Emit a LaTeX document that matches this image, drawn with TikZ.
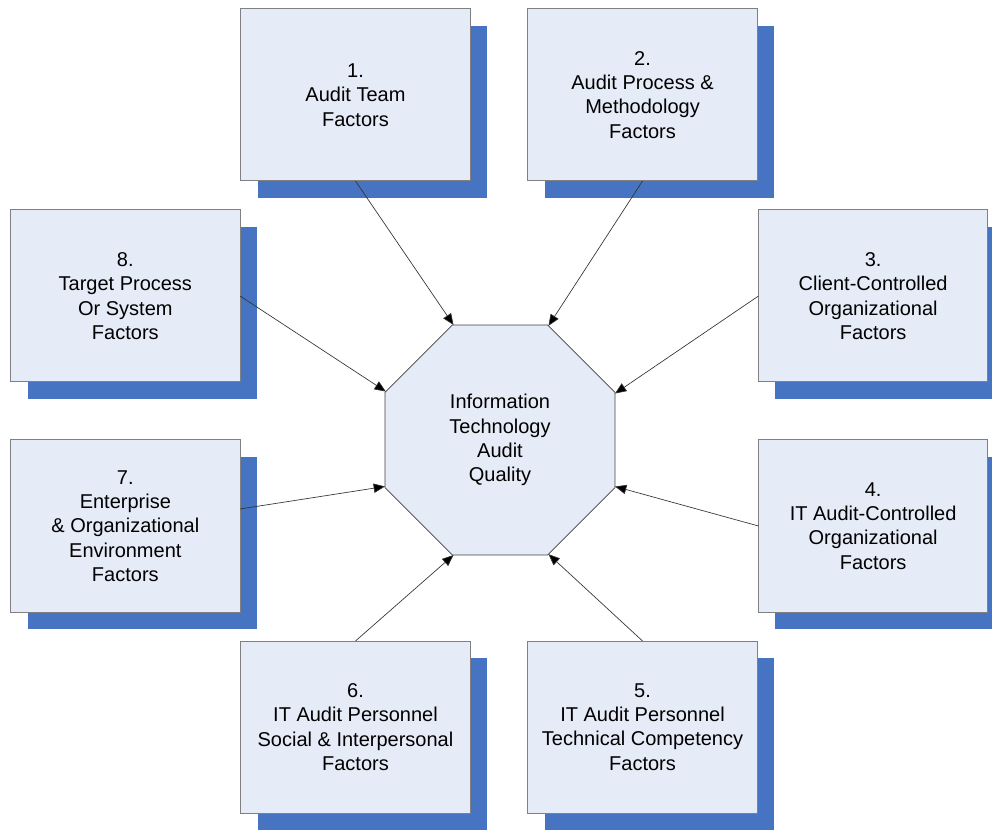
\documentclass[tikz,border=0pt]{standalone}
\usepackage{fontspec}
\setmainfont{Liberation Sans}
\usepackage{tikz}
\usetikzlibrary{shapes, arrows.meta, positioning, shadows, shapes.geometric}
\definecolor{boxfill}{RGB}{230, 236, 247}
\definecolor{shadowblue}{RGB}{70, 116, 194}
\definecolor{boxline}{RGB}{128, 128, 128}

\begin{document}
\begin{tikzpicture}[auto, >=Triangle,
    factor/.style={rectangle, draw=boxline, fill=boxfill, line width=0.75pt, minimum width=172pt, minimum height=129pt, align=center, inner sep=0pt, outer sep=0pt, font=\fontsize{15}{18.2}\selectfont, drop shadow={shadow xshift=12.75pt, shadow yshift=-12.75pt, fill=shadowblue, opacity=1}},
    core/.style={regular polygon, regular polygon sides=8, draw=black!75, fill=boxfill, line width=0.6pt, minimum size=186.7pt, align=center, inner sep=0pt, outer sep=0pt, font=\fontsize{15}{18.2}\selectfont},
    arrow/.style={line width=0.5pt, draw=black!80, -{Triangle[length=8.5pt, width=7pt, fill=black]}}]

    \useasboundingbox (-375pt,-291.75pt) rectangle (369pt,330pt);

    % Quality
    \node[core] (core) at (0,0) {Information\\Technology\\Audit\\Quality};

    % Factors
    \node[factor, above=108pt of core, xshift=-108.4pt] (team) {1.\\Audit Team\\Factors};
    \node[factor, above=108pt of core, xshift=106.9pt] (process) {2.\\Audit Process \&\\Methodology\\Factors};
    \node[factor, right=107.6pt of core, yshift=108pt] (client) {3.\\Client-Controlled\\Organizational\\Factors};
    \node[factor, right=107.6pt of core, yshift=-64.5pt] (itaudit) {4.\\IT Audit-Controlled\\Organizational\\Factors};
    \node[factor, below=64.5pt of core, xshift=106.9pt] (technical) {5.\\IT Audit Personnel\\Technical Competency\\Factors};
    \node[factor, below=64.5pt of core, xshift=-108.4pt] (social) {6.\\IT Audit Personnel\\Social \& Interpersonal\\Factors};
    \node[factor, left=108.75pt of core, yshift=-64.5pt] (enterprise) {7.\\Enterprise\\\& Organizational\\Environment\\Factors};
    \node[factor, left=108.75pt of core, yshift=108pt] (target) {8.\\Target Process\\Or System\\Factors};

    % Connections
    \draw[arrow] (team.south) -- (core.112.5);
    \draw[arrow] (process.south) -- (core.67.5);
    \draw[arrow] (client.west) -- (core.22.5);
    \draw[arrow] (itaudit.west) -- (core.-22.5);
    \draw[arrow] (technical.north) -- (core.-67.5);
    \draw[arrow] (social.north) -- (core.-112.5);
    \draw[arrow] ([yshift=12.75pt]enterprise.east) -- (core.202.5);
    \draw[arrow] (target.east) -- (core.157.5);
\end{tikzpicture}
\end{document}
